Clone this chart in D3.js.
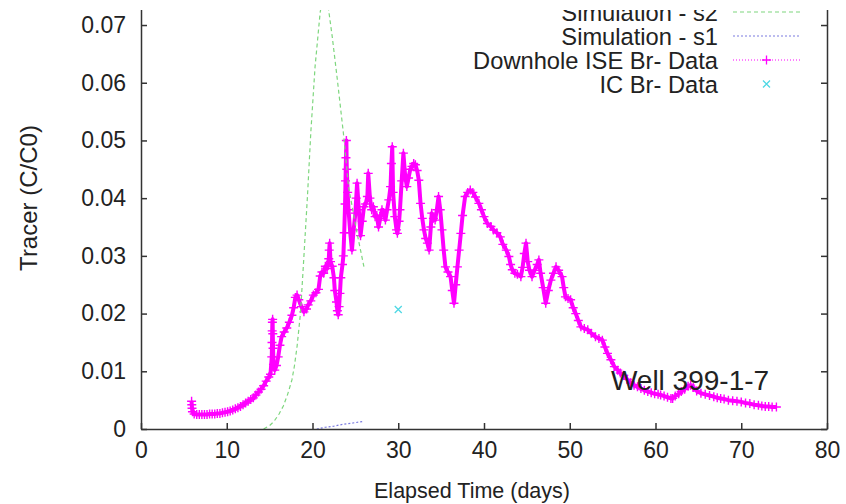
<!DOCTYPE html>
<html>
<head>
<meta charset="utf-8">
<script src="https://cdn.jsdelivr.net/npm/d3@7"></script>
<style>
  body { margin: 0; background: #fff; }
  svg text { font-family: "Liberation Sans", Arial, sans-serif; fill: #222; }
</style>
</head>
<body>
<script>
// Axis ticks
const xTicks = [0, 10, 20, 30, 40, 50, 60, 70, 80];
const yTicks = [0, 0.01, 0.02, 0.03, 0.04, 0.05, 0.06, 0.07];

const seriesNames = ["Simulation - s2", "Simulation - s1", "Downhole ISE Br- Data", "IC Br- Data"];
const wellLabel = "Well 399-1-7";

// Simulation s2 (green dashed) [day, C/C0]
const s2Data = [
  [14.3, 0], [15.0, 0.0006], [15.5, 0.0013], [16.1, 0.0026], [16.6, 0.004], [17.1, 0.006],
  [17.6, 0.0085], [17.9, 0.011], [18.2, 0.0143], [18.6, 0.0201], [18.95, 0.0287], [19.2, 0.035],
  [19.4, 0.040], [19.8, 0.0513], [20.3, 0.0628], [20.9, 0.0723], [21.3, 0.075], [21.8, 0.0735],
  [22.3, 0.068], [22.9, 0.0605], [23.6, 0.0513], [24.2, 0.042], [25.2, 0.0339], [26.0, 0.0281]
];

// Simulation s1 (blue dashed)
const s1Data = [
  [20.5, 0.0], [21.5, 0.0003], [22.5, 0.0005], [23.5, 0.0008], [24.5, 0.001], [25.9, 0.0013]
];

// Downhole ISE Br- data (magenta +)
const iseData = [
  [5.9, 0.0048], [5.92, 0.0042], [5.95, 0.0036], [6.0, 0.003], [6.2, 0.0026], [6.5, 0.0025],
  [6.8, 0.0025], [7.1, 0.0025], [7.4, 0.0025], [7.7, 0.0025], [8.0, 0.0026], [8.3, 0.0026],
  [8.6, 0.0026], [8.9, 0.0027], [9.2, 0.0027], [9.5, 0.0028], [9.8, 0.0029], [10.1, 0.003],
  [10.4, 0.0031], [10.7, 0.0033], [11.0, 0.0035], [11.3, 0.0037], [11.6, 0.0039], [11.9, 0.0042],
  [12.2, 0.0045], [12.5, 0.0048], [12.8, 0.0051], [13.1, 0.0054], [13.4, 0.0059], [13.7, 0.0064],
  [14.0, 0.0069], [14.3, 0.0075], [14.6, 0.0083], [14.9, 0.009], [15.1, 0.0095],
  [15.25, 0.0125], [15.28, 0.015], [15.3, 0.017], [15.32, 0.0185], [15.35, 0.019], [15.37, 0.0165],
  [15.4, 0.014], [15.45, 0.0112], [15.6, 0.0102], [15.8, 0.011], [16.0, 0.0125], [16.2, 0.0145],
  [16.4, 0.016], [16.7, 0.0168], [17.0, 0.0175], [17.3, 0.0185], [17.6, 0.0197], [17.8, 0.021],
  [18.0, 0.0228], [18.2, 0.0232], [18.4, 0.0224], [18.7, 0.0212], [19.0, 0.0203], [19.3, 0.0208],
  [19.5, 0.0215], [19.8, 0.0222], [20.1, 0.0232], [20.4, 0.0236], [20.7, 0.0242], [20.9, 0.0265],
  [21.1, 0.0272], [21.3, 0.027], [21.5, 0.0282], [21.7, 0.0278], [21.9, 0.0295], [21.95, 0.031],
  [22.0, 0.0322], [22.1, 0.029], [22.3, 0.0282], [22.5, 0.0262], [22.6, 0.024], [22.8, 0.022],
  [22.9, 0.0205], [23.0, 0.0198], [23.1, 0.0212], [23.2, 0.0235], [23.3, 0.0262], [23.5, 0.0285],
  [23.6, 0.03], [23.7, 0.034], [23.8, 0.039], [23.85, 0.043], [23.9, 0.047], [23.95, 0.05],
  [24.0, 0.045], [24.1, 0.041], [24.2, 0.038], [24.4, 0.034], [24.6, 0.031], [24.8, 0.0345],
  [25.0, 0.0374], [25.1, 0.04], [25.2, 0.0426], [25.4, 0.038], [25.6, 0.0335], [25.8, 0.036],
  [26.0, 0.0385], [26.2, 0.039], [26.4, 0.0403], [26.5, 0.0443], [26.7, 0.04], [26.9, 0.038],
  [27.1, 0.0385], [27.3, 0.0368], [27.5, 0.037], [27.7, 0.035], [27.9, 0.0365], [28.1, 0.038],
  [28.3, 0.0375], [28.5, 0.0362], [28.7, 0.038], [28.9, 0.0397], [29.1, 0.042], [29.2, 0.046],
  [29.3, 0.0489], [29.4, 0.041], [29.6, 0.0368], [29.8, 0.0345], [29.9, 0.0339], [30.1, 0.036],
  [30.2, 0.038], [30.4, 0.043], [30.6, 0.0478], [30.8, 0.044], [31.0, 0.042], [31.2, 0.0435],
  [31.4, 0.045], [31.6, 0.0455], [31.8, 0.046], [32.0, 0.0458], [32.2, 0.0448], [32.4, 0.0431],
  [32.6, 0.0391], [32.8, 0.0365], [33.0, 0.0345], [33.2, 0.033], [33.4, 0.0322], [33.6, 0.031],
  [33.8, 0.035], [33.9, 0.0374], [34.1, 0.0365], [34.3, 0.0362], [34.5, 0.038], [34.7, 0.0403],
  [34.9, 0.038], [35.1, 0.0345], [35.3, 0.031], [35.5, 0.0281], [35.8, 0.0272], [36.1, 0.0264],
  [36.3, 0.024], [36.5, 0.0218], [36.7, 0.025], [36.9, 0.0281], [37.1, 0.031], [37.3, 0.0339],
  [37.5, 0.037], [37.8, 0.0403], [38.1, 0.041], [38.4, 0.0414], [38.7, 0.041], [39.0, 0.0402],
  [39.4, 0.0391], [39.7, 0.038], [40.0, 0.0368], [40.4, 0.0356], [40.8, 0.0351], [41.1, 0.0345],
  [41.5, 0.034], [41.9, 0.0333], [42.2, 0.032], [42.6, 0.031], [42.9, 0.0299], [43.1, 0.0285],
  [43.3, 0.0276], [43.6, 0.027], [43.9, 0.0268], [44.3, 0.0264], [44.5, 0.028], [44.7, 0.0304],
  [44.9, 0.0322], [45.1, 0.029], [45.3, 0.0275], [45.6, 0.0264], [45.9, 0.0275], [46.2, 0.0285],
  [46.4, 0.0293], [46.6, 0.027], [46.9, 0.0245], [47.2, 0.0218], [47.5, 0.024], [47.8, 0.0258],
  [48.1, 0.027], [48.4, 0.0281], [48.7, 0.0275], [49.1, 0.0264], [49.3, 0.0245], [49.5, 0.0229],
  [49.8, 0.0226], [50.1, 0.0224], [50.4, 0.021], [50.7, 0.02], [51.0, 0.0188], [51.3, 0.0177],
  [51.7, 0.0174], [52.1, 0.0172], [52.5, 0.0166], [53.0, 0.016], [53.4, 0.0157], [53.8, 0.0154],
  [54.1, 0.0142], [54.4, 0.0131], [54.8, 0.012], [55.2, 0.0108], [55.6, 0.0102], [55.9, 0.0097],
  [56.3, 0.0093], [56.7, 0.0086], [57.1, 0.008], [57.5, 0.0076], [57.9, 0.0073], [58.3, 0.007],
  [58.7, 0.0067], [59.1, 0.0065], [59.5, 0.0063], [59.9, 0.0061], [60.3, 0.006], [60.6, 0.0059],
  [61.0, 0.0057], [61.4, 0.0055], [61.8, 0.0053], [62.0, 0.0053], [62.3, 0.0057], [62.7, 0.0061],
  [63.0, 0.0065], [63.4, 0.0069], [63.8, 0.0074], [64.1, 0.0076], [64.4, 0.0072], [64.8, 0.0066],
  [65.3, 0.0062], [65.8, 0.006], [66.3, 0.0058], [66.8, 0.0056], [67.2, 0.0054], [67.6, 0.0053],
  [68.0, 0.0052], [68.5, 0.005], [69.0, 0.0049], [69.5, 0.0048], [70.0, 0.0047], [70.5, 0.0045],
  [71.0, 0.0044], [71.5, 0.0042], [72.0, 0.0041], [72.4, 0.004], [72.8, 0.0039], [73.2, 0.0039],
  [73.6, 0.0038], [74.1, 0.0038]
];

// IC Br- data (cyan x)
const icData = [[30.0, 0.0207]];

// SVG dimensions
const w = 846;
const h = 504;
const left = 141, right = 827, bottom = 429;

const xScale = d3.scaleLinear().domain([0, 80]).range([left, right]);
// plot box runs up to 0.08, above the cropped top edge
const yScale = d3.scaleLinear().domain([0, 0.08]).range([bottom, bottom - 8 * 57.71]);

const svg = d3.select("body")
  .append("svg")
  .attr("width", w)
  .attr("height", h);

svg.append("defs").append("clipPath")
  .attr("id", "plot-clip")
  .append("rect")
  .attr("x", left).attr("y", yScale(0.08))
  .attr("width", right - left).attr("height", bottom - yScale(0.08));

const plot = svg.append("g").attr("clip-path", "url(#plot-clip)");

const line = d3.line()
  .x(d => xScale(d[0]))
  .y(d => yScale(d[1]));

const plusPath = "M-4.5,0H4.5M0,-4.5V4.5";
const crossPath = "M-3.5,-3.5L3.5,3.5M-3.5,3.5L3.5,-3.5";

// Magenta data: dense trace + plus markers
plot.append("path")
  .datum(iseData)
  .attr("d", line)
  .attr("fill", "none")
  .attr("stroke", "#ff00ff")
  .attr("stroke-width", 4)
  .attr("stroke-linejoin", "round");

plot.selectAll(".ise")
  .data(iseData)
  .enter()
  .append("path")
  .attr("class", "ise")
  .attr("transform", d => `translate(${xScale(d[0])},${yScale(d[1])})`)
  .attr("d", plusPath)
  .attr("stroke", "#ff00ff")
  .attr("stroke-width", 1.4);

// Simulation curves
plot.append("path")
  .datum(s2Data)
  .attr("d", line)
  .attr("fill", "none")
  .attr("stroke", "#7ed67e")
  .attr("stroke-width", 1.2)
  .attr("stroke-dasharray", "4,3");

plot.append("path")
  .datum(s1Data)
  .attr("d", line)
  .attr("fill", "none")
  .attr("stroke", "#7b7be0")
  .attr("stroke-width", 1.2)
  .attr("stroke-dasharray", "2,2");

plot.selectAll(".ic")
  .data(icData)
  .enter()
  .append("path")
  .attr("class", "ic")
  .attr("transform", d => `translate(${xScale(d[0])},${yScale(d[1])})`)
  .attr("d", crossPath)
  .attr("stroke", "#4fd8e4")
  .attr("stroke-width", 1.3);

// Axes (gnuplot style, inward ticks)
const fmtY = d => d === 0 ? "0" : d.toFixed(2);

const yAxis = svg.append("g")
  .attr("transform", `translate(${left},0)`)
  .call(d3.axisLeft(yScale).tickValues(yTicks).tickFormat(fmtY)
    .tickSize(-6).tickSizeOuter(0).tickPadding(15));

const xAxis = svg.append("g")
  .attr("transform", `translate(0,${bottom})`)
  .call(d3.axisBottom(xScale).tickValues(xTicks)
    .tickSize(-6).tickSizeOuter(0).tickPadding(13));

const rAxis = svg.append("g")
  .attr("transform", `translate(${right},0)`)
  .call(d3.axisRight(yScale).tickValues(yTicks).tickFormat("")
    .tickSize(-6).tickSizeOuter(0));

[yAxis, xAxis, rAxis].forEach(g => {
  g.selectAll("path, line").attr("stroke", "#333").attr("stroke-width", 1.5);
  g.selectAll("text").attr("font-size", 23).attr("fill", "#222")
    .style("font-family", '"Liberation Sans", Arial, sans-serif');
});

// Axis titling
svg.append("text")
  .attr("transform", `translate(37, 198) rotate(-90)`)
  .attr("text-anchor", "middle")
  .attr("font-size", 24)
  .text("Tracer (C/C0)");

svg.append("text")
  .attr("x", 472)
  .attr("y", 498)
  .attr("text-anchor", "middle")
  .attr("font-size", 21.5)
  .text("Elapsed Time (days)");

// Well label
svg.append("text")
  .attr("x", xScale(54.8))
  .attr("y", yScale(0.0068))
  .attr("font-size", 28)
  .text(wellLabel);

// Legend
const legend = svg.append("g");
const rowY = i => 12 + i * 24;
const legendX0 = 733, legendX1 = 800;

legend.selectAll("text")
  .data(seriesNames)
  .enter()
  .append("text")
  .attr("x", 718)
  .attr("y", (d, i) => rowY(i))
  .attr("dy", "0.36em")
  .attr("text-anchor", "end")
  .attr("font-size", 23.7)
  .text(d => d);

legend.append("line")
  .attr("x1", legendX0).attr("x2", legendX1)
  .attr("y1", rowY(0)).attr("y2", rowY(0))
  .attr("stroke", "#7ed67e").attr("stroke-width", 1.2).attr("stroke-dasharray", "4,3");

legend.append("line")
  .attr("x1", legendX0).attr("x2", legendX1)
  .attr("y1", rowY(1)).attr("y2", rowY(1))
  .attr("stroke", "#7b7be0").attr("stroke-width", 1.2).attr("stroke-dasharray", "2,2");

legend.append("line")
  .attr("x1", legendX0).attr("x2", legendX1)
  .attr("y1", rowY(2)).attr("y2", rowY(2))
  .attr("stroke", "#ff00ff").attr("stroke-width", 1).attr("stroke-dasharray", "1,2");

legend.append("path")
  .attr("transform", `translate(${(legendX0 + legendX1) / 2},${rowY(2)})`)
  .attr("d", plusPath)
  .attr("stroke", "#ff00ff").attr("stroke-width", 1.3);

legend.append("path")
  .attr("transform", `translate(${(legendX0 + legendX1) / 2},${rowY(3)})`)
  .attr("d", crossPath)
  .attr("stroke", "#4fd8e4").attr("stroke-width", 1.3);

// The figure is cropped at the top
svg.append("rect")
  .attr("x", 0).attr("y", 0)
  .attr("width", w).attr("height", 10)
  .attr("fill", "#fff");
</script>
</body>
</html>
